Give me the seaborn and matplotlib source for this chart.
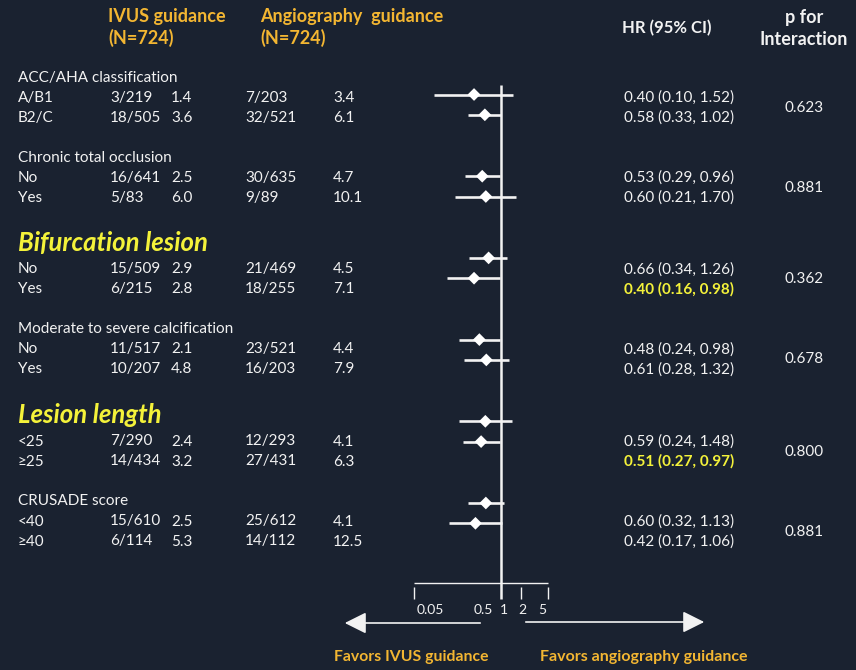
import numpy as np
import matplotlib.pyplot as plt
import seaborn as sns

# Subgroups and their values
groups = ["ACC/AHA classification", "Chronic total occlusion", "Bifurcation lesion",
          "Moderate to severe calcification", "Lesion length", "CRUSADE score"]
big_groups = ["Bifurcation lesion", "Lesion length"]
subgroups = ["A/B1", "B2/C", "No", "Yes", "No", "Yes", "No", "Yes", "<25", "≥25", "<40", "≥40"]
ivus_events = ["3/219", "18/505", "16/641", "5/83", "15/509", "6/215",
               "11/517", "10/207", "7/290", "14/434", "15/610", "6/114"]
ivus_rate = [1.4, 3.6, 2.5, 6.0, 2.9, 2.8, 2.1, 4.8, 2.4, 3.2, 2.5, 5.3]
angio_events = ["7/203", "32/521", "30/635", "9/89", "21/469", "18/255",
                "23/521", "16/203", "12/293", "27/431", "25/612", "14/112"]
angio_rate = [3.4, 6.1, 4.7, 10.1, 4.5, 7.1, 4.4, 7.9, 4.1, 6.3, 4.1, 12.5]
hr = [0.40, 0.58, 0.53, 0.60, 0.66, 0.40, 0.48, 0.61, 0.59, 0.51, 0.60, 0.42]
ci_lo = [0.10, 0.33, 0.29, 0.21, 0.34, 0.16, 0.24, 0.28, 0.24, 0.27, 0.32, 0.17]
ci_hi = [1.52, 1.02, 0.96, 1.70, 1.26, 0.98, 0.98, 1.32, 1.48, 0.97, 1.13, 1.06]
p_inter = ["0.623", "0.881", "0.362", "0.678", "0.800", "0.881"]
significant = [5, 9]
tick_vals = [0.05, 0.5, 1, 2, 5]

BG = "#1a2230"
WHITE = "#f2f2f2"
GOLD = "#f3b632"
YELLOW = "#f4f23a"

sns.set_theme(style="dark", rc={"figure.facecolor": BG, "axes.facecolor": BG})
plt.rcParams["font.family"] = ["Lato", "DejaVu Sans"]

W, H = 856, 670
fig = plt.figure(figsize=(W / 100, H / 100), dpi=100)

# canvas in pixel coordinates for the table text
cv = fig.add_axes([0, 0, 1, 1])
cv.set_xlim(0, W)
cv.set_ylim(H, 0)
cv.axis("off")

# forest axes: log x, same pixel y
ax = fig.add_axes([0, 0, 1, 1])
ax.patch.set_alpha(0)
ax.set_xscale("log")
x1_px, px_dec = 500.7, 67.0
ax.set_xlim(10 ** (-x1_px / px_dec), 10 ** ((W - x1_px) / px_dec))
ax.set_ylim(H, 0)
ax.axis("off")

def txt(x, y, s, size=11, color=WHITE, **kw):
    cv.text(x, y, s, fontsize=size, color=color, va="baseline", **kw)

# column headers
txt(108, 21.7, "IVUS guidance", 13, GOLD, fontweight="bold")
txt(108, 44, "(N=724)", 13, GOLD, fontweight="bold")
txt(260, 21.7, "Angiography  guidance", 13, GOLD, fontweight="bold")
txt(260, 44, "(N=724)", 13, GOLD, fontweight="bold")
txt(667, 33, "HR (95% CI)", 12, WHITE, fontweight="bold", ha="center")
txt(804, 23, "p for", 13, WHITE, fontweight="bold", ha="center")
txt(804, 45, "Interaction", 13, WHITE, fontweight="bold", ha="center")

head_y = [81.7, 161.7, 250.7, 333.3, 422.7, 505]
row_y = [101.7, 121.7, 181.7, 201.7, 273.3, 293.3, 353.3, 373.3, 445.5, 465.5, 525.5, 545.5]
mark_y = [94.5 + g * 81.7 + r * 20.3 for g in range(6) for r in range(2)]

for g, name in enumerate(groups):
    if name in big_groups:
        txt(18, head_y[g], name, 18.5, YELLOW, fontweight="bold", fontstyle="italic")
    else:
        txt(18, head_y[g], name)
    p_y = (row_y[2 * g] + row_y[2 * g + 1]) / 2
    txt(804, p_y, p_inter[g], ha="center")

for i in range(len(subgroups)):
    y = row_y[i]
    txt(18, y, subgroups[i])
    txt(110, y, ivus_events[i])
    txt(171, y, f"{ivus_rate[i]:.1f}")
    txt(245, y, angio_events[i])
    txt(333, y, f"{angio_rate[i]:.1f}")
    label = f"{hr[i]:.2f} ({ci_lo[i]:.2f}, {ci_hi[i]:.2f})"
    if i in significant:
        txt(624, y, label, 11, YELLOW, fontweight="bold")
    else:
        txt(624, y, label)

# forest marks
ax.hlines(mark_y, ci_lo, ci_hi, color=WHITE, lw=1.9, zorder=2)
sns.scatterplot(x=hr, y=mark_y, ax=ax, marker="D", s=42, color="white",
                edgecolor="none", zorder=3)

# reference line and scale
ax.vlines(1, 85, 599, color=WHITE, lw=1.8)
ax.hlines(583, tick_vals[0], tick_vals[-1], color=WHITE, lw=1.0)
for t in [0.05, 2, 5]:
    ax.vlines(t, 587, 599, color=WHITE, lw=1.0)
tick_lab_x = [430, 483, 504, 522, 542]
for t, xl in zip(tick_vals, tick_lab_x):
    txt(xl, 614, f"{t:g}", 10, ha="center")

# direction arrows
arrow = dict(arrowstyle="-|>,head_length=1.1,head_width=0.55", color=WHITE, lw=1.2)
cv.annotate("", xy=(342, 623), xytext=(483, 623), arrowprops=arrow)
cv.annotate("", xy=(707, 622), xytext=(523, 622), arrowprops=arrow)
txt(334, 661, "Favors IVUS guidance", 11.3, GOLD, fontweight="bold")
txt(540, 661, "Favors angiography guidance", 11.5, GOLD, fontweight="bold")

fig.savefig("out.png", dpi=100, facecolor=BG)
